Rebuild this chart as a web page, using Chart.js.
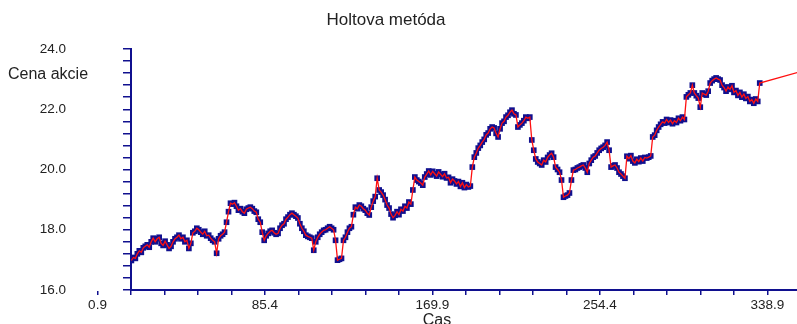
<!DOCTYPE html>
<html>
<head>
<meta charset="utf-8">
<title>Holtova metóda</title>
<script src="https://cdn.jsdelivr.net/npm/chart.js@4.4.1/dist/chart.umd.min.js"></script>
<style>
  html, body { margin: 0; padding: 0; background: #fff; }
</style>
</head>
<body>
<canvas id="holt" width="797" height="324"></canvas>
<script>

// den prvej pozorovanej ceny, dalsie idu po jednom dni
var prvyDen = 18;

// cena akcie po dnoch
var cena = [
  16.98, 17.08, 17.05, 17.20, 17.30, 17.25, 17.40, 17.45, 17.50, 17.42,
  17.60, 17.72, 17.60, 17.70, 17.75, 17.55, 17.48, 17.62, 17.50, 17.38,
  17.45, 17.60, 17.70, 17.75, 17.82, 17.70, 17.75, 17.60, 17.65, 17.38,
  17.55, 17.90, 17.95, 18.05, 18.00, 17.92, 17.85, 17.95, 17.80, 17.82,
  17.72, 17.65, 17.60, 17.22, 17.70, 17.80, 17.85, 17.92, 18.25, 18.60,
  18.88, 18.85, 18.90, 18.78, 18.65, 18.70, 18.60, 18.55, 18.68, 18.72,
  18.75, 18.70, 18.62, 18.58, 18.35, 18.25, 17.92, 17.65, 17.80, 17.88,
  17.95, 17.98, 17.90, 17.85, 17.88, 18.05, 18.15, 18.20, 18.35, 18.42,
  18.50, 18.55, 18.50, 18.45, 18.39, 18.20, 18.05, 17.95, 17.82, 17.78,
  17.75, 17.72, 17.32, 17.60, 17.75, 17.85, 17.92, 17.98, 18.00, 18.05,
  18.10, 18.05, 18.00, 17.65, 16.99, 17.02, 17.05, 17.65, 17.75, 17.92,
  18.05, 18.10, 18.50, 18.75, 18.70, 18.82, 18.78, 18.70, 18.65, 18.55,
  18.49, 18.75, 18.95, 19.10, 19.71, 19.32, 19.25, 19.15, 19.00, 18.82,
  18.72, 18.52, 18.40, 18.48, 18.60, 18.50, 18.68, 18.62, 18.78, 18.72,
  18.92, 18.85, 19.32, 19.75, 19.65, 19.60, 19.55, 19.48, 19.75, 19.85,
  19.95, 19.82, 19.94, 19.86, 19.78, 19.92, 19.84, 19.76, 19.86, 19.72,
  19.74, 19.56, 19.68, 19.62, 19.52, 19.60, 19.44, 19.56, 19.40, 19.50,
  19.42, 19.45, 20.08, 20.41, 20.55, 20.71, 20.80, 20.91, 21.00, 21.15,
  21.21, 21.35, 21.41, 21.38, 21.20, 21.08, 21.35, 21.54, 21.60, 21.74,
  21.80, 21.90, 21.97, 21.85, 21.81, 21.41, 21.48, 21.54, 21.62, 21.74,
  21.70, 21.74, 20.98, 20.64, 20.35, 20.25, 20.20, 20.15, 20.31, 20.25,
  20.40, 20.48, 20.54, 20.41, 20.08, 20.00, 19.91, 19.65, 19.08, 19.12,
  19.15, 19.22, 19.65, 19.98, 20.00, 20.05, 20.08, 20.12, 20.15, 20.05,
  19.91, 20.20, 20.31, 20.41, 20.45, 20.55, 20.64, 20.70, 20.74, 20.80,
  20.91, 20.64, 20.08, 20.12, 20.15, 20.05, 19.91, 19.85, 19.78, 19.71,
  20.44, 20.36, 20.46, 20.28, 20.22, 20.34, 20.26, 20.38, 20.28, 20.40,
  20.38, 20.41, 20.45, 21.08, 21.14, 21.30, 21.41, 21.50, 21.58, 21.54,
  21.66, 21.56, 21.64, 21.52, 21.62, 21.56, 21.70, 21.62, 21.74, 21.66,
  22.41, 22.48, 22.54, 22.80, 22.54, 22.45, 22.37, 22.07, 22.54, 22.50,
  22.47, 22.60, 22.87, 22.95, 23.00, 23.04, 23.00, 22.97, 22.80, 22.72,
  22.60, 22.74, 22.66, 22.78, 22.56, 22.62, 22.46, 22.56, 22.40, 22.50,
  22.36, 22.42, 22.26, 22.32, 22.20, 22.34, 22.26, 22.87
];

// prognoza Holtovou metodou za poslednym pozorovanim
var prognozaDni = [354];
var prognozaCena = [23.22];

// popisane hodnoty na osiach
var xZnacky = [0.9, 85.4, 169.9, 254.4, 338.9];
var yZnacky = [16, 18, 20, 22, 24];

var modra = '#10108f';
var cervena = '#ff1010';
var pismo = '"Liberation Sans", Arial, sans-serif';

var krokX = (xZnacky[1] - xZnacky[0]) / 5;
var krokY = (yZnacky[1] - yZnacky[0]) / 5;

var body = [];
for (var i = 0; i < cena.length; i++) {
    body.push({x: prvyDen + i, y: cena[i]});
}
var linia = body.slice();
for (var j = 0; j < prognozaDni.length; j++) {
    linia.push({x: prognozaDni[j], y: prognozaCena[j]});
}

function jeZnacka(zoznam, v) {
    return zoznam.some(function(z) { return Math.abs(z - v) < 1e-6; });
}

// nadpis a popisy osi (vodorovne, ako v povodnom grafe)
var popisky = {
    id: 'popisky',
    afterDraw: function(chart) {
        var ctx = chart.ctx;
        ctx.save();
        ctx.fillStyle = '#222';
        ctx.textBaseline = 'alphabetic';
        ctx.font = '17px ' + pismo;
        ctx.textAlign = 'center';
        ctx.fillText('Holtova metóda', 386, 25);
        ctx.font = '16px ' + pismo;
        ctx.textAlign = 'left';
        ctx.fillText('Cena akcie', 8, 79);
        ctx.textAlign = 'center';
        ctx.fillText('Cas', 437, 325);
        ctx.restore();
    }
};

var ctx = document.getElementById('holt');

var config = {
    type: 'line',
    data: {
        datasets: [
            {
                label: 'Holt',
                data: linia,
                borderColor: cervena,
                borderWidth: 1.3,
                pointRadius: 0,
                tension: 0,
                fill: false
            },
            {
                label: 'Cena akcie',
                data: body,
                showLine: false,
                pointStyle: 'rect',
                pointRadius: 4,
                backgroundColor: modra,
                borderColor: modra,
                borderWidth: 0
            }
        ]
    },
    options: {
        responsive: false,
        animation: false,
        devicePixelRatio: 1,
        layout: { autoPadding: false, padding: { top: 49, left: 0, right: 0, bottom: 0 } },
        plugins: {
            legend: { display: false },
            tooltip: { enabled: false }
        },
        scales: {
            x: {
                type: 'linear',
                min: xZnacky[0] + krokX,
                max: 353.8,
                afterBuildTicks: function(scale) {
                    var t = [];
                    for (var k = 0; xZnacky[0] + k * krokX <= scale.max + 1e-9; k++) {
                        t.push({value: Math.round((xZnacky[0] + k * krokX) * 10) / 10});
                    }
                    scale.ticks = t;
                },
                afterFit: function(scale) {
                    scale.height = 34;
                    scale.paddingLeft = 0;
                    scale.paddingRight = 0;
                },
                border: { color: modra, width: 2 },
                grid: { drawOnChartArea: false, tickLength: 5, color: modra, lineWidth: 1.5 },
                ticks: {
                    autoSkip: false,
                    maxRotation: 0,
                    padding: 2,
                    color: '#222',
                    font: { family: pismo, size: 13.5 },
                    callback: function(v) { return jeZnacka(xZnacky, v) ? v.toFixed(1) : ''; }
                }
            },
            y: {
                min: yZnacky[0],
                max: yZnacky[yZnacky.length - 1],
                afterFit: function(scale) {
                    scale.width = 131;
                    scale.paddingTop = 0;
                    scale.paddingBottom = 0;
                },
                border: { color: modra, width: 2 },
                grid: { drawOnChartArea: false, tickLength: 8, color: modra, lineWidth: 1.5 },
                ticks: {
                    stepSize: krokY,
                    autoSkip: false,
                    padding: 57,
                    color: '#222',
                    font: { family: pismo, size: 13.5 },
                    callback: function(v) { return jeZnacka(yZnacky, v) ? v.toFixed(1) : ''; }
                }
            }
        }
    },
    plugins: [popisky]
};

var chart = new Chart(ctx, config);
</script>
</body>
</html>
